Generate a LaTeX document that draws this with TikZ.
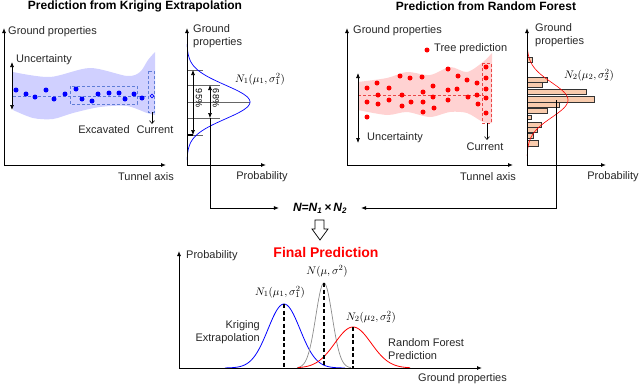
\documentclass[tikz,border=0pt]{standalone}
\usepackage{fontspec}
\setmainfont{Liberation Sans}
\usetikzlibrary{arrows.meta}

\definecolor{kband}{RGB}{208,208,255}
\definecolor{kdash}{RGB}{95,125,215}
\definecolor{rband}{RGB}{255,210,210}
\definecolor{rdash}{RGB}{235,70,70}
\definecolor{hbar}{RGB}{248,203,173}

\begin{document}
\begin{tikzpicture}[x=1pt,y=-1pt,>={Latex[length=5pt,width=4pt]},
  lbl/.style={font=\fontsize{11}{13}\selectfont,inner sep=0pt,text=black!85},
  ttl/.style={font=\fontsize{12}{14}\selectfont\bfseries,inner sep=0pt},
  mth/.style={font=\fontsize{11}{13}\selectfont,inner sep=0pt},
  axis/.style={->,line width=0.9pt},
  dashln/.style={dash pattern=on 3pt off 2pt,line width=0.7pt},
  cur/.style={->,>={Straight Barb[length=3pt,width=5pt]},line width=0.6pt}]
  \useasboundingbox (0,0) rectangle (640,386);

  % titles
  \node[ttl] (t1) at (135,6) {Prediction from Kriging Extrapolation};
  \node[ttl] (t2) at (486,6) {Prediction from Random Forest};

  % kriging band
  \fill[kband] plot[smooth] coordinates {(13,72) (50,77) (90,68) (127,76) (140,72) (148,60) (155,52)}
    -- plot[smooth] coordinates {(155,115) (147,113) (127,106) (100,107) (73,113) (53,119) (33,118) (13,110)} -- cycle;
  \draw[dashln,kdash] (13,96) -- (148,96);
  \draw[dashln,kdash] (70,86) rectangle (137,104);
  \draw[dashln,kdash] (148,71) rectangle (154,112);
  \foreach \px/\py in {16/90,26/94,35/97,46/90,54/99,65/94,76/89,82/99,92/101,98/94,
                       109/93,119/93,125/99,134/94,142/98}
    \fill[blue] (\px,\py) circle (2.5);
  \draw[blue,line width=0.7pt] (152,96) circle (1.8);
  \draw[<->,line width=0.7pt] (12,62) -- (12,110);
  \draw[cur] (152,112) -- (152,124);
  \draw[axis] (4,165) -- (4,28);
  \draw[axis] (4,165) -- (166,165);
  \node[lbl,anchor=west] (gp1) at (8,32) {Ground properties};
  \node[lbl,anchor=west] (unc1) at (16,60) {Uncertainty};
  \node[lbl] (exc) at (104,130) {Excavated};
  \node[lbl] (cur1) at (155,130) {Current};
  \node[lbl] (ta1) at (146,177) {Tunnel axis};

  % kriging distribution
  \foreach \hy/\hx in {70/203,85/220,102/250,118/220,135/203}
    \draw[black!60,line width=0.6pt] (187,\hy) -- (\hx,\hy);
  \draw[line width=1.2pt] (187,135) -- (193,135);
  \draw[blue,line width=0.7pt] plot[domain=44:160,samples=80] ({187+63*exp(-((\x-102)^2)/578)},\x);
  \draw[<->,line width=0.6pt] (193,70) -- (193,135);
  \draw[<->,line width=0.6pt] (210,85) -- (210,118);
  \node[font=\fontsize{9}{10}\selectfont,rotate=-90,inner sep=0pt] (p95) at (199,98) {95\%};
  \node[font=\fontsize{9}{10}\selectfont,rotate=-90,inner sep=0pt] (p68) at (216,98) {68\%};
  \coordinate (k68) at (210,118);
  \draw[axis] (187,165) -- (187,28);
  \draw[axis] (187,165) -- (266,165);
  \node[lbl,anchor=north west,align=left] (gp2) at (193,24) {Ground\\properties};
  \node[mth] (n1a) at (260,79) {$N_1(\mu_1,\sigma_1^2)$};
  \node[lbl] (pr2) at (262,177) {Probability};

  % random forest band
  \fill[rband] plot[smooth] coordinates {(358,82) (387,78) (407,72) (430,75) (450,67) (467,72) (483,62) (492,53)}
    -- plot[smooth] coordinates {(492,123) (483,122) (467,113) (450,112) (430,117) (407,112) (387,115) (358,110)} -- cycle;
  \draw[dashln,rdash] (358,95) -- (484,95);
  \draw[dashln,rdash] (482,63) rectangle (491,123);
  \foreach \px/\py in {367/88,367/102,367/117,377/83,378/95,378/104,389/88,389/100,
                       400/76,402/95,402/106,410/78,411/102,422/77,423/92,423/102,423/112,
                       433/86,433/97,434/108,448/69,448/90,448/100,457/89,458/76,
                       467/80,468/97,477/83,477/95,478/104,
                       486/67,486/78,486/89,486/98,486/113}
    \fill[red] (\px,\py) circle (2.5);
  \draw[<->,line width=0.7pt] (358,73) -- (358,143);
  \draw[cur] (487,123) -- (487,140);
  \draw[axis] (347,165) -- (347,28);
  \draw[axis] (347,165) -- (513,165);
  \node[lbl,anchor=west] (gp3) at (353,31) {Ground properties};
  \fill[red] (427,50) circle (2.5);
  \node[lbl,anchor=west] (tree) at (434,49) {Tree prediction};
  \node[lbl,anchor=west] (unc3) at (367,138) {Uncertainty};
  \node[lbl] (cur3) at (485,147) {Current};
  \node[lbl] (ta3) at (488,177) {Tunnel axis};

  % histogram
  \coordinate (rfpk) at (556,100);
  \draw[black!60,line width=0.6pt] (rfpk) -- (556,165);
  \foreach \ya/\yb/\xe in {57/62/532,77/82/547,82/87/542,89/94/586,96/102/594,102/107/559,
                           108/113/547,115/119/531,122/127/541,127/132/537,133/138/533,140/146/538}
    \draw[fill=hbar,draw=black!80,line width=0.7pt] (527,\ya) rectangle (\xe,\yb);
  \draw[red,line width=0.6pt] plot[domain=48:156,samples=80] ({527+41*exp(-((\x-100)^2)/600)},\x);
  \draw[axis] (527,165) -- (527,28);
  \draw[axis] (527,165) -- (606,165);
  \node[lbl,anchor=north west,align=left] (gp4) at (535,23) {Ground\\properties};
  \node[mth] (n2a) at (589,75) {$N_2(\mu_2,\sigma_2^2)$};
  \node[lbl] (pr4) at (613,177) {Probability};

  % combination
  \node[font=\fontsize{12}{14}\selectfont\bfseries\itshape,inner xsep=14pt,inner ysep=0pt] (prod) at (320,208)
    {N=N\textsubscript{1}\,\texttimes\,N\textsubscript{2}};
  \draw[->,line width=0.7pt] (k68) |- (prod);
  \draw[->,line width=0.7pt] (rfpk) |- (prod);
  \draw[fill=white,line width=0.7pt] (315,220) -- (324,220) -- (324,229) -- (328,229) -- (320,240)
    -- (312,229) -- (315,229) -- cycle;

  % final prediction
  \node[font=\fontsize{14}{16}\selectfont\bfseries,text=red,inner sep=0pt] (fin) at (326,252) {Final Prediction};
  \draw[blue,line width=0.8pt] plot[domain=225:345,samples=80] (\x,{368-64*exp(-((\x-284)^2)/512)});
  \draw[black!45,line width=0.7pt] plot[domain=297:351,samples=80] (\x,{368-85*exp(-((\x-324)^2)/136)});
  \draw[red,line width=0.8pt] plot[domain=298:410,samples=80] (\x,{368-41*exp(-((\x-353)^2)/660)});
  \draw[dash pattern=on 4pt off 2.5pt,line width=1.3pt] (284,304) -- (284,368);
  \draw[dash pattern=on 4pt off 2.5pt,line width=1.3pt] (324,283) -- (324,368);
  \draw[dash pattern=on 4pt off 2.5pt,line width=1.3pt] (353,327) -- (353,368);
  \draw[axis] (179,368) -- (179,251);
  \draw[axis] (179,368) -- (482,368);
  \node[lbl,anchor=west] (pr5) at (186,256) {Probability};
  \node[mth] (nn) at (327,271) {$N(\mu,\sigma^2)$};
  \node[mth] (n1b) at (280,292) {$N_1(\mu_1,\sigma_1^2)$};
  \node[mth] (n2b) at (371,317) {$N_2(\mu_2,\sigma_2^2)$};
  \node[lbl,anchor=east,align=right] (krig) at (260,332) {Kriging\\Extrapolation};
  \node[lbl,anchor=west,align=left] (rfp) at (388,349) {Random Forest\\Prediction};
  \node[lbl,anchor=west] (gp5) at (418,379) {Ground properties};
\end{tikzpicture}
\end{document}
